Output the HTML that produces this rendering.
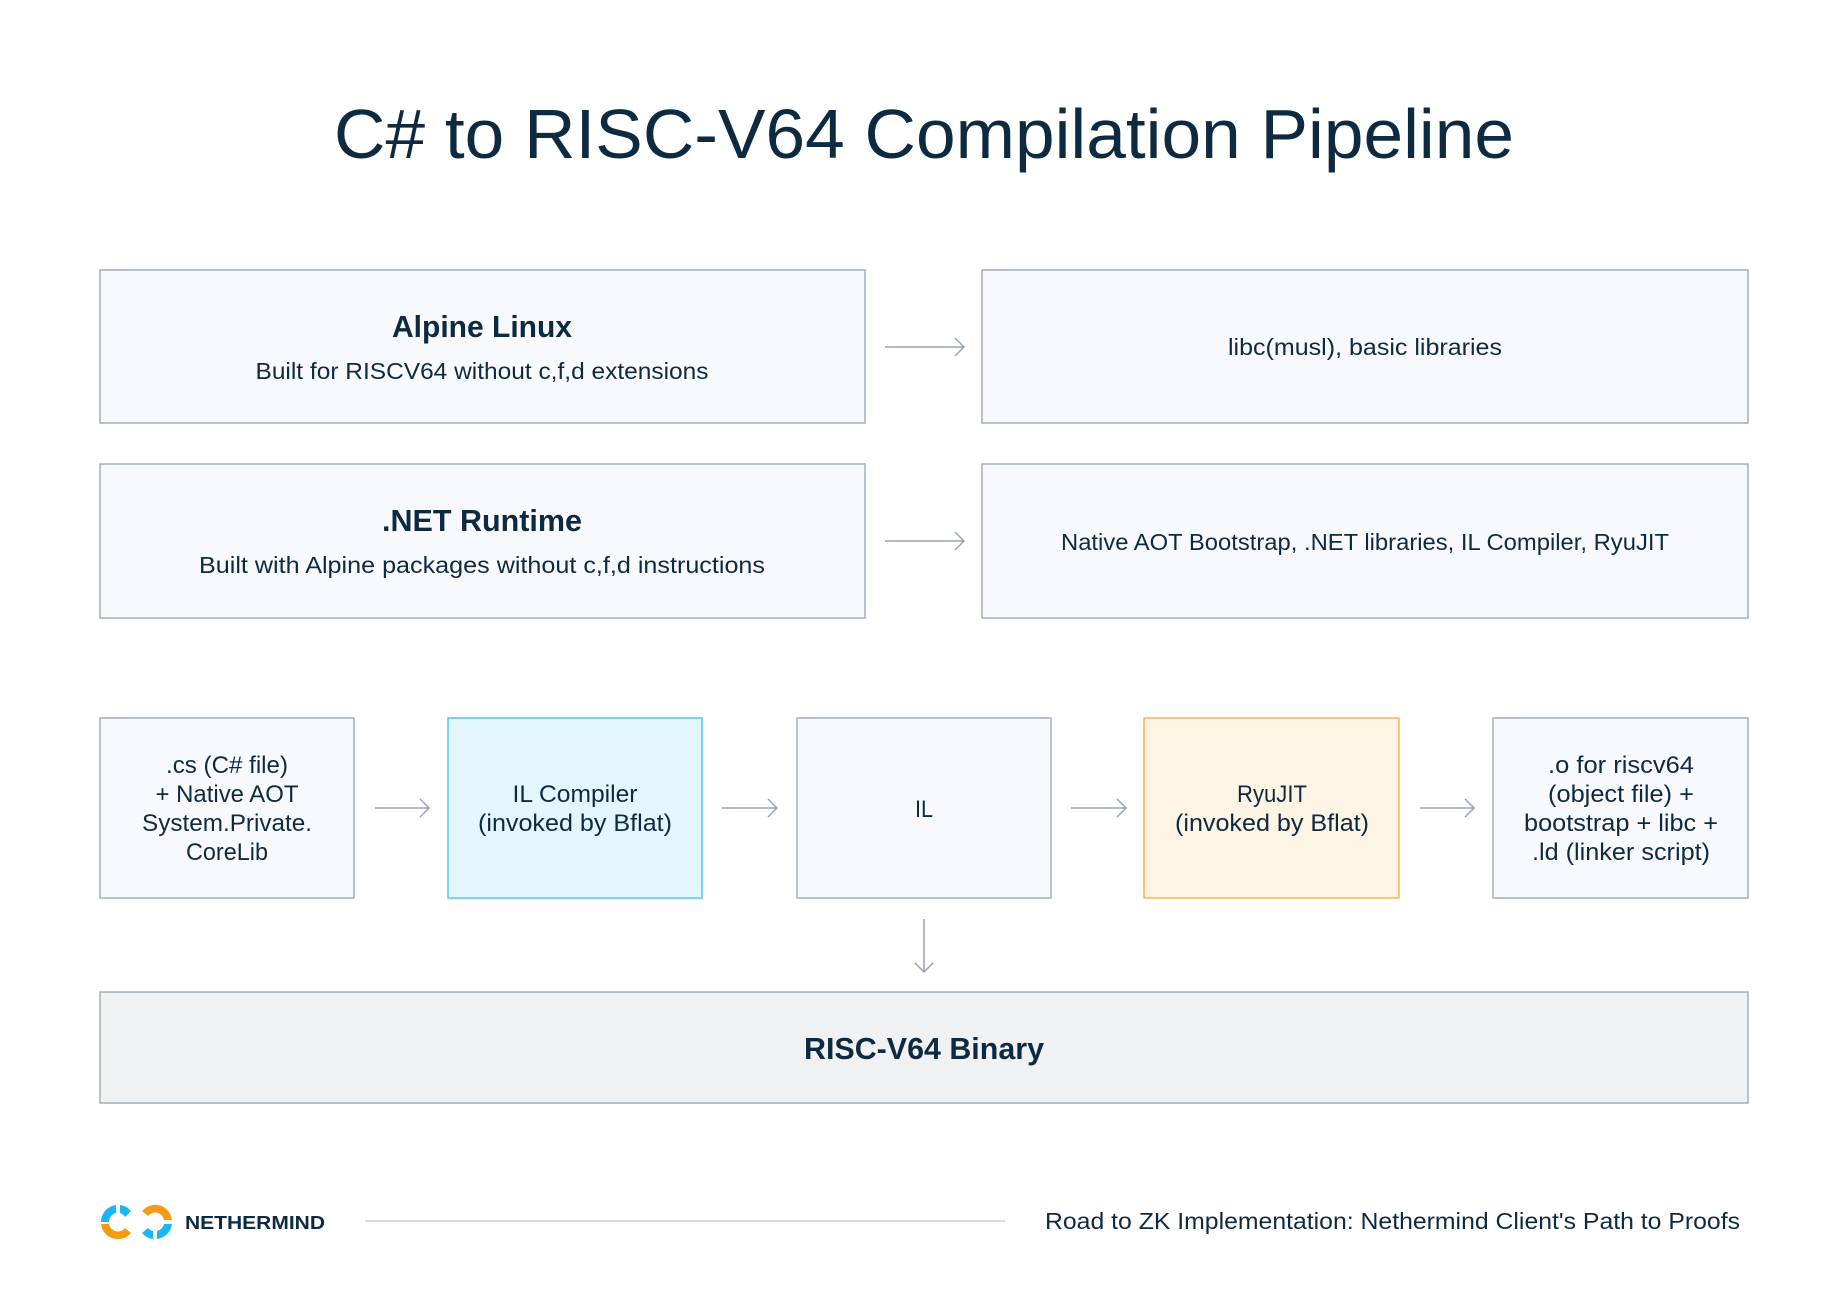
<!DOCTYPE html>
<html><head><meta charset="utf-8"><style>
html,body{margin:0;padding:0;background:#fff}
svg{display:block}
text{font-family:"Liberation Sans",sans-serif;fill:#0e2a40}
</style></head><body>
<svg width="1848" height="1301" viewBox="0 0 1848 1301" xmlns="http://www.w3.org/2000/svg">
<rect width="1848" height="1301" fill="#fff"/>
<text x="924" y="158" font-size="70" text-anchor="middle" textLength="1180" lengthAdjust="spacingAndGlyphs">C# to RISC-V64 Compilation Pipeline</text>

<g stroke="#a3adba" stroke-width="1.5" fill="#f8f9fd">
<rect x="100" y="270" width="765" height="153"/>
<rect x="982" y="270" width="766" height="153"/>
<rect x="100" y="464" width="765" height="154"/>
<rect x="982" y="464" width="766" height="154"/>
<rect x="100" y="718" width="254" height="180"/>
<rect x="797" y="718" width="254" height="180"/>
<rect x="1493" y="718" width="255" height="180"/>
</g>
<rect x="448" y="718" width="254" height="180" fill="#e4f6fd" stroke="#52c6f2" stroke-width="1.5"/>
<rect x="1144" y="718" width="255" height="180" fill="#fef4e4" stroke="#f3b751" stroke-width="1.5"/>
<rect x="100" y="992" width="1648" height="111" fill="#eff1f3" stroke="#a3adba" stroke-width="1.5"/>

<g font-size="31" font-weight="bold" text-anchor="middle">
<text x="482" y="337" textLength="180" lengthAdjust="spacingAndGlyphs">Alpine Linux</text>
<text x="482" y="531" textLength="200" lengthAdjust="spacingAndGlyphs">.NET Runtime</text>
<text x="924" y="1059" textLength="240" lengthAdjust="spacingAndGlyphs">RISC-V64 Binary</text>
</g>
<g font-size="23" text-anchor="middle">
<text x="482" y="379" textLength="453" lengthAdjust="spacingAndGlyphs">Built for RISCV64 without c,f,d extensions</text>
<text x="482" y="573" textLength="566" lengthAdjust="spacingAndGlyphs">Built with Alpine packages without c,f,d instructions</text>
<text x="1365" y="355" textLength="274" lengthAdjust="spacingAndGlyphs">libc(musl), basic libraries</text>
<text x="1365" y="550" textLength="608" lengthAdjust="spacingAndGlyphs">Native AOT Bootstrap, .NET libraries, IL Compiler, RyuJIT</text>
</g>
<g font-size="24" text-anchor="middle">
<text x="227" y="773" textLength="122" lengthAdjust="spacingAndGlyphs">.cs (C# file)</text>
<text x="227" y="802" textLength="143" lengthAdjust="spacingAndGlyphs">+ Native AOT</text>
<text x="227" y="831" textLength="170" lengthAdjust="spacingAndGlyphs">System.Private.</text>
<text x="227" y="860" textLength="82" lengthAdjust="spacingAndGlyphs">CoreLib</text>
<text x="575" y="802" textLength="125" lengthAdjust="spacingAndGlyphs">IL Compiler</text>
<text x="575" y="831" textLength="194" lengthAdjust="spacingAndGlyphs">(invoked by Bflat)</text>
<text x="924" y="817" textLength="18" lengthAdjust="spacingAndGlyphs">IL</text>
<text x="1272" y="802" textLength="70" lengthAdjust="spacingAndGlyphs">RyuJIT</text>
<text x="1272" y="831" textLength="194" lengthAdjust="spacingAndGlyphs">(invoked by Bflat)</text>
<text x="1621" y="773" textLength="146" lengthAdjust="spacingAndGlyphs">.o for riscv64</text>
<text x="1621" y="802" textLength="146" lengthAdjust="spacingAndGlyphs">(object file) +</text>
<text x="1621" y="831" textLength="194" lengthAdjust="spacingAndGlyphs">bootstrap + libc +</text>
<text x="1621" y="860" textLength="178" lengthAdjust="spacingAndGlyphs">.ld (linker script)</text>
</g>

<g stroke="#9aa4b2" stroke-width="1.5" fill="none">
<path d="M885 347H964M955 338L964 347L955 356"/>
<path d="M885 541H964M955 532L964 541L955 550"/>
<path d="M375 808H429M420 799L429 808L420 817"/>
<path d="M722 808H777M768 799L777 808L768 817"/>
<path d="M1071 808H1126M1117 799L1126 808L1117 817"/>
<path d="M1420 808H1474M1465 799L1474 808L1465 817"/>
<path d="M924 919V972M915 963L924 972L933 963"/>
</g>

<!-- logo -->
<g transform="translate(118,1222)">
<path d="M-2 -17 A17 17 0 0 0 -17 0 L-9 0 A9 9 0 0 1 -2 -9Z" fill="#1ab5f3"/>
<path d="M2 -17 A17 17 0 0 1 13 -11 L7 -5 A9 9 0 0 0 2 -9Z" fill="#1ab5f3"/>
<path d="M-17 2 A17 17 0 0 0 13 11 L7 6 A9 9 0 0 1 -9 2Z" fill="#f59a16"/>
</g>
<g transform="translate(155,1222)">
<path d="M-13 -11 A17 17 0 0 1 17 -2 L9 -2 A9 9 0 0 0 -7 -6Z" fill="#f59a16"/>
<path d="M17 2 A17 17 0 0 1 2 17 L2 9 A9 9 0 0 0 9 2Z" fill="#1ab5f3"/>
<path d="M-2 17 A17 17 0 0 1 -13 11 L-7 6 A9 9 0 0 0 -2 9Z" fill="#1ab5f3"/>
</g>
<text x="185" y="1229" font-size="18" font-weight="bold" textLength="140" lengthAdjust="spacingAndGlyphs">NETHERMIND</text>
<line x1="365" y1="1221" x2="1005" y2="1221" stroke="#c9d0d8" stroke-width="1.5"/>
<text x="1740" y="1229" font-size="23" text-anchor="end" textLength="695" lengthAdjust="spacingAndGlyphs">Road to ZK Implementation: Nethermind Client's Path to Proofs</text>
</svg>
</body></html>
